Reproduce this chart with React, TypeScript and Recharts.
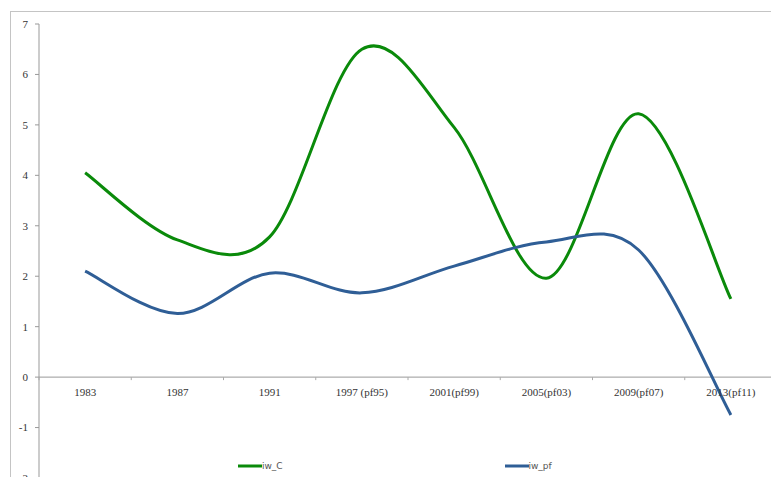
import React from 'react';
import { LineChart, Line, XAxis, YAxis, ReferenceLine, Legend } from 'recharts';

const categories = ['1983', '1987', '1991', '1997 (pf95)', '2001(pf99)', '2005(pf03)', '2009(pf07)', '2013(pf11)'];
const iwC = [4.05, 2.72, 2.78, 6.5, 4.95, 1.96, 5.22, 1.55];
const iwPf = [2.1, 1.26, 2.06, 1.67, 2.2, 2.68, 2.52, -0.75];
const yTicks = [-2, -1, 0, 1, 2, 3, 4, 5, 6, 7];

const data = categories.map((c, i) => ({ cat: c, iw_C: iwC[i], iw_pf: iwPf[i] }));

const W = 790;
const H = 500;
const MARGIN = { top: 24, right: 13, left: 9, bottom: 2 };
const Y_AXIS_W = 30;
const X_AXIS_H = 20;
const Y_MIN = -2;
const Y_MAX = 7;
const PLOT_H = H - MARGIN.top - MARGIN.bottom - X_AXIS_H;
const PLOT_W = W - MARGIN.left - MARGIN.right - Y_AXIS_W;
const ZERO_Y = MARGIN.top + (PLOT_H * (Y_MAX - 0)) / (Y_MAX - Y_MIN);
const BAND = PLOT_W / categories.length;

// Excel-like smoothed line (Bezier with 1/6 neighbour tangents)
function excelSmooth(context: any) {
  let pts: number[][] = [];
  return {
    areaStart() {},
    areaEnd() {},
    lineStart() {
      pts = [];
    },
    lineEnd() {
      const n = pts.length;
      if (n === 0) return;
      context.moveTo(pts[0][0], pts[0][1]);
      for (let i = 0; i < n - 1; i++) {
        const p0 = pts[Math.max(0, i - 1)];
        const p1 = pts[i];
        const p2 = pts[i + 1];
        const p3 = pts[Math.min(n - 1, i + 2)];
        context.bezierCurveTo(
          p1[0] + (p2[0] - p0[0]) / 6,
          p1[1] + (p2[1] - p0[1]) / 6,
          p2[0] - (p3[0] - p1[0]) / 6,
          p2[1] - (p3[1] - p1[1]) / 6,
          p2[0],
          p2[1]
        );
      }
    },
    point(x: number, y: number) {
      pts.push([+x, +y]);
    },
  };
}

const XTick = (props: any) => {
  const { x, payload, index } = props;
  const left = x - BAND / 2;
  const isLast = index === categories.length - 1;
  return (
    <g>
      <line x1={left} y1={ZERO_Y} x2={left} y2={ZERO_Y + 3} stroke="#aaa" />
      {isLast && <line x1={left + BAND} y1={ZERO_Y} x2={left + BAND} y2={ZERO_Y + 3} stroke="#aaa" />}
      <text
        x={x}
        y={ZERO_Y + 19}
        textAnchor="middle"
        fontFamily="'Liberation Serif', 'Times New Roman', serif"
        fontSize={11}
        fill="#333"
      >
        {payload.value}
      </text>
    </g>
  );
};

const renderLegend = (props: any) => {
  const { payload } = props;
  return (
    <div style={{ display: 'flex', paddingLeft: 238 }}>
      {(payload || []).map((e: any) => (
        <div key={e.value} style={{ width: 268, display: 'flex', alignItems: 'center', height: 12 }}>
          <svg width={24} height={6} style={{ display: 'block' }}>
            <line x1={0} y1={3} x2={24} y2={3} stroke={e.color} strokeWidth={3} />
          </svg>
          <span style={{ fontFamily: "'DejaVu Sans', sans-serif", fontSize: 9, color: '#555', lineHeight: '12px' }}>
            {e.value}
          </span>
        </div>
      ))}
    </div>
  );
};

export default function App() {
  return (
    <div style={{ position: 'absolute', left: 0, top: 0, width: 771, height: 477, overflow: 'hidden', background: '#fff' }}>
      <div
        style={{
          position: 'absolute',
          left: 10,
          top: 11,
          width: 800,
          height: 520,
          border: '1px solid #c4c4c4',
          boxSizing: 'border-box',
        }}
      />
      <div style={{ position: 'absolute', left: 0, top: 0 }}>
        <LineChart width={W} height={H} data={data} margin={MARGIN}>
          <XAxis
            dataKey="cat"
            height={X_AXIS_H}
            axisLine={false}
            tickLine={false}
            interval={0}
            padding={{ left: BAND / 2, right: BAND / 2 }}
            tick={<XTick />}
          />
          <YAxis
            width={Y_AXIS_W}
            domain={[Y_MIN, Y_MAX]}
            ticks={yTicks}
            interval={0}
            allowDataOverflow
            axisLine={{ stroke: '#999' }}
            tickLine={{ stroke: '#999' }}
            tickSize={4}
            tickMargin={7}
            tick={{ fontFamily: "'Liberation Serif', 'Times New Roman', serif", fontSize: 11, fill: '#333' }}
          />
          <ReferenceLine y={0} stroke="#999" strokeWidth={1} />
          <Legend
            layout="horizontal"
            verticalAlign="middle"
            align="center"
            content={renderLegend}
            wrapperStyle={{ top: 460, left: 0, width: 771 }}
          />
          <Line
            dataKey="iw_C"
            name="iw_C"
            type={excelSmooth as any}
            stroke="#0a8a0a"
            strokeWidth={3}
            dot={false}
            activeDot={false}
            isAnimationActive={false}
          />
          <Line
            dataKey="iw_pf"
            name="iw_pf"
            type={excelSmooth as any}
            stroke="#2f5e96"
            strokeWidth={3}
            dot={false}
            activeDot={false}
            isAnimationActive={false}
          />
        </LineChart>
      </div>
    </div>
  );
}
